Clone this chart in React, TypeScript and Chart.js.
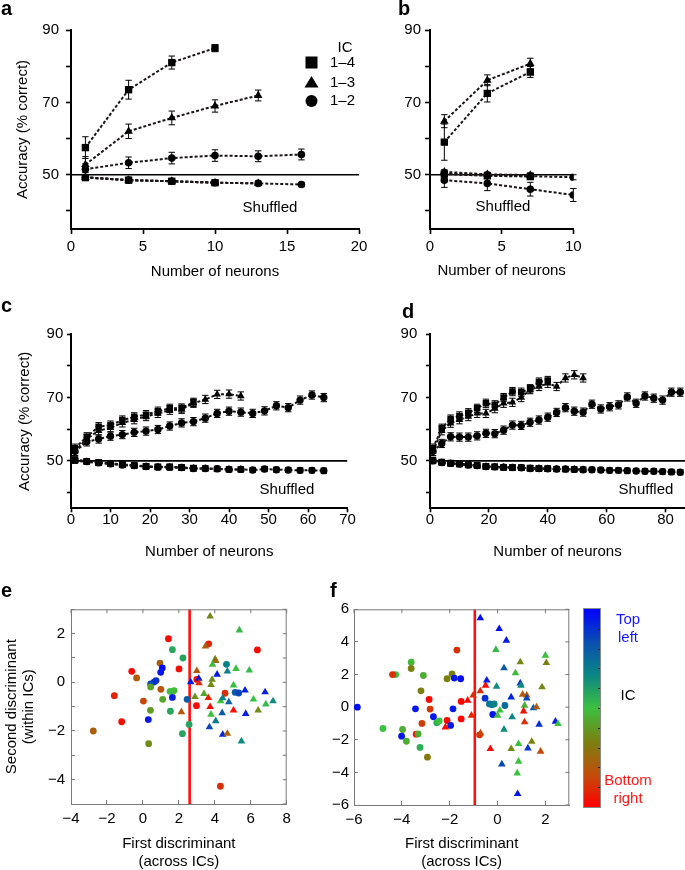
import React, { useEffect, useRef } from 'react';
import { Chart, registerables } from 'chart.js';
Chart.register(...registerables);

const W = 685;
const CH = 900;
const FONT = "'Liberation Sans', Arial, Helvetica, sans-serif";
const LINE = '#1a1414';

// ---------------- data ----------------
const CHANCE = 50;
const LEGEND_TITLE = 'IC';
const LEGEND_LABELS = ['1\u20134', '1\u20133', '1\u20132'];
const SHUFFLED_LABEL = 'Shuffled';

// panel a
const A_X = [1, 4, 7, 10, 13, 16];
const A_SQ = [57.5, 73.5, 81.0, 85.0];
const A_SQ_ERR = [3.0, 2.6, 1.8, 1.0];
const A_TRI = [52.8, 62.0, 65.7, 69.0, 71.9];
const A_TRI_ERR = [2.2, 2.0, 1.9, 1.7, 1.5];
const A_CIR = [51.5, 53.3, 54.6, 55.3, 55.1, 55.6];
const A_CIR_ERR = [1.5, 1.6, 1.6, 1.6, 1.5, 1.5];
const A_SHUF_SQ = [49.2, 48.5, 48.2, 47.8];
const A_SHUF_TRI = [49.3, 48.5, 48.2, 47.8, 47.6];
const A_SHUF_CIR = [49.3, 48.5, 48.2, 47.8, 47.6, 47.3];
const A_SHUF_ERR = 0.6;

// panel b
const B_X = [1, 4, 7, 10];
const B_TRI = [64.8, 76.1, 80.7];
const B_TRI_ERR = [1.8, 1.5, 1.5];
const B_SQ = [59.0, 72.5, 78.4];
const B_SQ_ERR = [5.0, 2.4, 1.5];
const B_CIR = [50.3, 49.9, 49.6, 49.3];
const B_CIR_ERR = 0.7;
const B_SHUF_TRI = [50.8, 50.1, 49.9];
const B_SHUF_SQ = [50.2, 49.7, 49.5];
const B_SHUF_ERR = 0.6;
const B_SHUF_CIR = [48.5, 47.6, 46.0, 44.4];
const B_SHUF_CIR_ERR = [2.0, 2.0, 1.9, 1.8];

// panel c
const C_X = [1, 4, 7, 10, 13, 16, 19, 22, 25, 28, 31, 34, 37, 40, 43, 46, 49, 52, 55, 58, 61, 64];
const C_CIR = [53.0, 56.0, 56.9, 57.8, 58.3, 59.0, 59.4, 59.9, 61.0, 62.0, 62.4, 63.5, 65.0, 65.7, 65.4, 65.0, 65.8, 67.4, 66.8, 69.2, 70.8, 70.0];
const C_SQ = [54.0, 57.6, 60.8, 61.3, 62.9, 63.9, 64.6, 65.7, 66.6, 66.7, 68.5];
const C_TRI = [53.0, 57.0, 59.5, 60.5, 62.0, 63.0, 64.0, 65.0, 66.0, 66.3, 68.2, 69.4, 71.0, 71.1, 70.5];
const C_SHUF_CIR = [50.2, 49.8, 49.4, 49.1, 48.7, 48.5, 48.2, 48.0, 48.0, 47.9, 47.6, 47.6, 47.5, 47.3, 47.3, 47.1, 47.4, 47.2, 47.1, 47.0, 47.0, 46.9];
const C_SHUF_SQ = [50.4, 49.9, 49.5, 49.2, 48.9, 48.6, 48.3, 48.1, 48.1, 47.9, 47.7];
const C_SHUF_TRI = [50.0, 49.7, 49.3, 49.0, 48.7, 48.4, 48.2, 48.0, 47.9, 47.8, 47.6, 47.6, 47.4, 47.3, 47.3];
const C_ERR = 1.3;
const C_SHUF_ERR = 0.8;

// panel d
const D_X = [1, 4, 7, 10, 13, 16, 19, 22, 25, 28, 31, 34, 37, 40, 43, 46, 49, 52, 55, 58, 61, 64, 67, 70, 73, 76, 79, 82, 85];
const D_CIR = [53.0, 55.5, 57.6, 57.5, 57.5, 57.9, 58.7, 58.6, 59.7, 61.3, 61.2, 62.2, 62.9, 63.8, 65.3, 66.8, 65.7, 65.4, 67.9, 66.4, 67.1, 67.7, 70.2, 68.2, 70.5, 69.8, 69.2, 71.7, 71.7];
const D_SQ = [54.0, 60.3, 63.2, 64.2, 65.2, 66.6, 68.2, 67.7, 70.0, 71.9, 71.7, 72.8, 74.9, 75.4];
const D_TRI = [53.0, 59.5, 61.9, 63.0, 64.0, 65.0, 65.0, 66.5, 68.2, 68.5, 70.0, 72.5, 73.5, 74.5, 73.5, 76.2, 77.2, 76.2];
const D_SHUF_CIR = [50.0, 49.5, 49.2, 49.0, 48.7, 48.5, 48.2, 48.1, 48.0, 47.9, 47.8, 47.6, 47.6, 47.5, 47.4, 47.4, 47.3, 47.2, 47.2, 47.1, 47.0, 47.0, 46.9, 46.8, 46.7, 46.7, 46.6, 46.5, 46.4];
const D_SHUF_SQ = [50.3, 49.6, 49.3, 49.1, 48.8, 48.6, 48.3, 48.1, 48.0, 47.9, 47.8, 47.7, 47.6, 47.5];
const D_SHUF_TRI = [49.9, 49.4, 49.1, 48.9, 48.6, 48.4, 48.2, 48.0, 47.9, 47.8, 47.8, 47.6, 47.5, 47.5, 47.4, 47.3, 47.3, 47.2];
const D_ERR = 1.3;
const D_SHUF_ERR = 0.8;

// panel e: [first discriminant, second discriminant, IC position 0=bottom right .. 1=top left]
const E_BOUNDARY = 2.6;
const E_CIRCLES: number[][] = [
  [1.42, 1.79, 0.02], [-0.62, 0.45, 0.02], [-1.59, -0.55, 0.08], [-1.18, -1.62, 0.03], [-2.76, -2.0, 0.22],
  [-0.35, 0.18, 0.2], [0.03, -0.77, 0.15], [0.95, 0.79, 0.22], [1.0, -0.29, 0.18], [1.08, 0.59, 0.97],
  [0.99, 0.41, 0.95], [0.62, 0.01, 0.88], [0.43, -0.07, 0.85], [0.73, 0.07, 0.9], [0.3, -1.53, 0.95],
  [0.43, -0.19, 0.42], [0.42, -1.15, 0.4], [0.32, -2.52, 0.36], [1.1, -0.7, 0.43], [1.64, 1.34, 0.57],
  [2.23, 1.0, 0.58], [1.51, -0.37, 0.5], [1.73, -0.34, 0.48], [1.53, -1.19, 0.57], [1.64, -0.62, 0.93],
  [2.01, 0.55, 0.02], [2.2, -2.11, 0.58], [2.57, -1.73, 0.58], [2.46, -0.7, 0.8], [3.0, 0.12, 0.02],
  [2.98, -0.96, 0.02], [3.66, 1.58, 0.08], [6.37, 1.33, 0.02], [4.57, -0.45, 0.1], [4.31, -4.27, 0.1],
  [4.65, 0.74, 0.68], [5.13, -0.41, 0.8], [5.33, -0.44, 0.85],
];
const E_TRIANGLES: number[][] = [
  [2.66, 0.01, 0.95], [3.0, 0.47, 0.2], [3.11, 0.15, 0.95], [3.12, -0.03, 0.08], [2.9, -0.6, 0.38],
  [2.14, -1.22, 0.2], [3.48, 1.48, 0.22], [3.74, 2.71, 0.35], [5.37, 2.14, 0.52], [4.02, 0.95, 0.35],
  [4.05, 0.88, 0.25], [3.87, 0.73, 0.48], [3.85, 0.11, 0.37], [3.79, -0.1, 0.35], [4.13, 0.32, 0.95],
  [3.4, -0.47, 0.43], [3.64, -0.64, 0.08], [3.74, -1.01, 0.02], [3.79, -1.32, 0.5], [4.05, -1.59, 0.7],
  [3.7, -1.84, 0.85], [4.33, -0.77, 0.5], [4.44, -0.65, 0.68], [4.41, -1.26, 0.8], [4.7, 0.45, 0.68],
  [4.78, -0.81, 0.78], [4.44, -2.15, 0.92], [4.7, -2.11, 0.22], [5.04, -1.15, 0.02], [5.04, -0.12, 0.5],
  [5.18, 0.56, 0.5], [5.48, -2.42, 0.65], [5.68, -0.33, 0.93], [5.72, -1.29, 0.93], [5.92, 0.49, 0.52],
  [6.15, -0.7, 0.5], [6.41, -1.15, 0.36], [6.8, -0.4, 0.93], [6.84, -0.9, 0.52], [7.24, -0.77, 0.65],
];

// panel f
const F_BOUNDARY = -0.95;
const F_CIRCLES: number[][] = [
  [-5.86, 0.0, 0.97], [-4.79, -1.31, 0.5], [-4.26, 2.0, 0.5], [-4.39, 2.0, 0.1], [-3.61, 2.76, 0.48],
  [-3.61, 2.37, 0.33], [-3.1, 1.94, 0.45], [-3.2, 1.0, 0.33], [-3.43, -0.1, 0.95], [-2.86, 0.47, 0.02],
  [-2.82, -0.12, 0.12], [-2.68, -0.59, 0.95], [-3.16, -1.0, 0.13], [-3.97, -1.37, 0.45], [-4.01, -1.78, 0.95],
  [-3.81, -2.09, 0.45], [-3.4, -1.66, 0.03], [-3.32, -1.64, 0.45], [-3.24, -2.47, 0.55], [-2.93, -3.07, 0.3],
  [-2.54, -0.96, 0.55], [-2.44, -0.85, 0.5], [-2.11, -0.82, 0.02], [-1.96, -1.12, 0.95], [-1.86, -0.1, 0.95],
  [-2.11, 1.74, 0.33], [-1.9, 2.04, 0.33], [-1.81, 1.78, 0.95], [-1.54, 1.74, 0.97], [-1.7, 3.5, 0.1],
  [-1.52, 0.35, 0.02], [-1.52, -0.72, 0.02], [-0.75, -1.7, 0.1], [-0.52, 0.55, 0.9], [-0.34, 0.2, 0.72],
  [-0.23, 0.15, 0.7], [-0.14, 0.2, 0.68], [-0.2, -0.45, 0.95], [0.31, 0.1, 0.75],
];
const F_TRIANGLES: number[][] = [
  [-2.18, -1.23, 0.02], [-1.25, 0.41, 0.02], [-1.09, -0.51, 0.08], [-1.02, 0.72, 0.1], [-0.72, 0.98, 0.1],
  [-0.5, 1.33, 0.02], [-0.45, 1.64, 0.95], [-0.72, 5.46, 0.97], [0.07, 4.8, 0.97], [0.37, 4.09, 0.95],
  [-0.07, 3.52, 0.52], [0.27, 2.39, 0.8], [-0.04, 1.27, 0.65], [-0.71, -1.6, 0.15], [-0.3, -2.56, 0.02],
  [0.0, -0.51, 0.48], [0.1, -0.2, 0.5], [0.27, -1.37, 0.65], [0.18, -3.5, 0.85], [0.57, 0.61, 0.92],
  [0.61, -0.61, 0.68], [0.57, -2.56, 0.35], [0.75, 2.09, 0.48], [0.95, 2.76, 0.35], [0.95, 1.47, 0.88],
  [0.98, 1.33, 0.65], [1.05, 0.78, 0.2], [1.22, 0.72, 0.2], [1.22, 0.55, 0.85], [1.13, 0.1, 0.45],
  [1.09, -0.25, 0.03], [1.13, -0.92, 0.1], [0.88, -2.25, 0.5], [0.88, -3.33, 0.5], [0.82, -4.05, 0.5],
  [0.84, -5.32, 0.95], [1.27, -2.52, 0.88], [1.43, -2.11, 0.33], [1.5, -0.06, 0.8], [1.63, 0.0, 0.2],
  [1.74, -1.06, 0.9], [1.8, -2.72, 0.15], [1.86, 1.23, 0.35], [2.0, 3.17, 0.5], [2.04, 2.72, 0.33],
  [2.42, -0.88, 0.95], [2.53, -1.02, 0.5],
];

// colormap (IC position -> colour)
const IC_STOPS: [number, string][] = [
  [0, '#ff0000'], [0.17, '#c0500a'], [0.33, '#7a8010'], [0.5, '#3cc040'],
  [0.67, '#0a8585'], [0.83, '#0a50b0'], [1, '#0000ff'],
];

// ---------------- helpers ----------------
function hexRgb(h: string) {
  return [parseInt(h.slice(1, 3), 16), parseInt(h.slice(3, 5), 16), parseInt(h.slice(5, 7), 16)];
}
function icColor(t: number) {
  for (let i = 0; i < IC_STOPS.length - 1; i++) {
    const [t0, c0] = IC_STOPS[i];
    const [t1, c1] = IC_STOPS[i + 1];
    if (t >= t0 && t <= t1) {
      const f = (t - t0) / (t1 - t0);
      const a = hexRgb(c0), b = hexRgb(c1);
      const m = a.map((v, k) => Math.round(v + (b[k] - v) * f));
      return `rgb(${m[0]},${m[1]},${m[2]})`;
    }
  }
  return IC_STOPS[IC_STOPS.length - 1][1];
}

const pts = (xs: number[], ys: number[]) => ys.map((y, i) => ({ x: xs[i], y }));

function series(xs: number[], ys: number[], err: number | number[], style: string, r: number) {
  return {
    data: pts(xs, ys),
    errs: Array.isArray(err) ? err : ys.map(() => err),
    borderColor: LINE,
    borderWidth: 2,
    borderDash: [3, 2],
    pointStyle: style,
    pointRadius: r,
    pointHoverRadius: r,
    pointBackgroundColor: '#000',
    pointBorderWidth: 0,
    fill: false,
    tension: 0,
  };
}
function chanceLine(x0: number, x1: number) {
  return {
    data: [{ x: x0, y: CHANCE }, { x: x1, y: CHANCE }],
    borderColor: '#000',
    borderWidth: 1.6,
    pointRadius: 0,
    fill: false,
  };
}
function scatterSet(rows: number[][], style: string, r: number) {
  return {
    data: rows.map((p) => ({ x: p[0], y: p[1] })),
    showLine: false,
    pointStyle: style,
    pointRadius: r,
    pointHoverRadius: r,
    pointBackgroundColor: rows.map((p) => icColor(p[2])),
    pointBorderWidth: 0,
  };
}
function boundaryLine(x: number, y0: number, y1: number) {
  return {
    data: [{ x, y: y0 }, { x, y: y1 }],
    borderColor: '#ff1010',
    borderWidth: 2.6,
    pointRadius: 0,
    fill: false,
  };
}

const MK = { sq: 5.2, tri: 4.9, cir: 3.8 };
const MK2 = { sq: 4.6, tri: 4.4, cir: 3.7 };

const PANELS: any[] = [
  {
    key: 'a',
    area: { l: 71, t: 30, r: 359, b: 229 },
    x: { min: 0, max: 20, ticks: [0, 5, 10, 15, 20], labels: [0, 5, 10, 15, 20] },
    y: { min: 35, max: 90, ticks: [40, 50, 60, 70, 80, 90], labels: [50, 70, 90] },
    xTitle: 'Number of neurons',
    yTitle: 'Accuracy (% correct)',
    yW: 57, xH: 51.7, tl: 5, xPad: 3.7, yPad: 7, box: false, legend: true,
    build: () => [
      series(A_X, A_SQ, A_SQ_ERR, 'rect', MK.sq),
      series(A_X, A_TRI, A_TRI_ERR, 'triangle', MK.tri),
      series(A_X, A_CIR, A_CIR_ERR, 'circle', MK.cir),
      series(A_X, A_SHUF_SQ, A_SHUF_ERR, 'rect', MK.sq),
      series(A_X, A_SHUF_TRI, A_SHUF_ERR, 'triangle', MK.tri),
      series(A_X, A_SHUF_CIR, A_SHUF_ERR, 'circle', MK.cir),
      chanceLine(0, 20),
    ],
  },
  {
    key: 'b',
    area: { l: 430, t: 30, r: 573.3, b: 229 },
    x: { min: 0, max: 10, ticks: [0, 5, 10], labels: [0, 5, 10] },
    y: { min: 35, max: 90, ticks: [40, 50, 60, 70, 80, 90], labels: [50, 70, 90] },
    xTitle: 'Number of neurons',
    yW: 40, xH: 50.7, tl: 5, xPad: 3.7, yPad: 4, box: false,
    build: () => [
      series(B_X, B_TRI, B_TRI_ERR, 'triangle', MK.tri),
      series(B_X, B_SQ, B_SQ_ERR, 'rect', MK.sq),
      series(B_X, B_SHUF_TRI, B_SHUF_ERR, 'triangle', MK.tri),
      series(B_X, B_SHUF_SQ, B_SHUF_ERR, 'rect', MK.sq),
      series(B_X, B_CIR, B_CIR_ERR, 'circle', MK.cir),
      series(B_X, B_SHUF_CIR, B_SHUF_CIR_ERR, 'circle', MK.cir),
      chanceLine(0, 10),
    ],
  },
  {
    key: 'c',
    area: { l: 71, t: 334.3, r: 347.5, b: 508.3 },
    x: { min: 0, max: 70, ticks: [0, 10, 20, 30, 40, 50, 60, 70], labels: [0, 10, 20, 30, 40, 50, 60, 70] },
    y: { min: 35, max: 90, ticks: [40, 50, 60, 70, 80, 90], labels: [50, 70, 90] },
    xTitle: 'Number of neurons',
    yTitle: 'Accuracy (% correct)',
    yW: 55, xH: 52.7, tl: 4, xPad: -1, yPad: 3.7, box: false,
    build: () => [
      series(C_X, C_SQ, C_ERR, 'rect', MK2.sq),
      series(C_X, C_TRI, C_ERR, 'triangle', MK2.tri),
      series(C_X, C_CIR, C_ERR, 'circle', MK2.cir),
      series(C_X, C_SHUF_SQ, C_SHUF_ERR, 'rect', MK2.sq),
      series(C_X, C_SHUF_TRI, C_SHUF_ERR, 'triangle', MK2.tri),
      series(C_X, C_SHUF_CIR, C_SHUF_ERR, 'circle', MK2.cir),
      chanceLine(0, 70),
    ],
  },
  {
    key: 'd',
    area: { l: 430, t: 334.3, r: 685, b: 508.3 },
    x: { min: 0, max: 86.6, ticks: [0, 20, 40, 60, 80], labels: [0, 20, 40, 60, 80] },
    y: { min: 35, max: 90, ticks: [40, 50, 60, 70, 80, 90], labels: [50, 70, 90] },
    xTitle: 'Number of neurons',
    yW: 40, xH: 53, tl: 4, xPad: -1, yPad: 8.7, box: false,
    build: () => [
      series(D_X, D_SQ, D_ERR, 'rect', MK2.sq),
      series(D_X, D_TRI, D_ERR, 'triangle', MK2.tri),
      series(D_X, D_CIR, D_ERR, 'circle', MK2.cir),
      series(D_X, D_SHUF_SQ, D_SHUF_ERR, 'rect', MK2.sq),
      series(D_X, D_SHUF_TRI, D_SHUF_ERR, 'triangle', MK2.tri),
      series(D_X, D_SHUF_CIR, D_SHUF_ERR, 'circle', MK2.cir),
      chanceLine(0, 86.6),
    ],
  },
  {
    key: 'e',
    area: { l: 71, t: 609.3, r: 286.7, b: 804 },
    x: { min: -4, max: 8, ticks: [-4, -2, 0, 2, 4, 6, 8], labels: [-4, -2, 0, 2, 4, 6, 8] },
    y: { min: -5, max: 3, ticks: [-5, -4, -3, -2, -1, 0, 1, 2, 3], labels: [-4, -2, 0, 2] },
    xTitle: ['First discriminant', '(across ICs)'],
    yTitle: ['Second discriminant', '(within ICs)'],
    yW: 67.25, xH: 66.7, tl: -4, xPad: 10, yPad: 10, box: true,
    build: () => [
      scatterSet(E_TRIANGLES, 'triangle', 4.4),
      scatterSet(E_CIRCLES, 'circle', 3.4),
      boundaryLine(E_BOUNDARY, -5, 3),
    ],
  },
  {
    key: 'f',
    area: { l: 354, t: 609.3, r: 569.3, b: 805 },
    x: { min: -6, max: 3, ticks: [-6, -4, -2, 0, 2], labels: [-6, -4, -2, 0, 2] },
    y: { min: -6, max: 6, ticks: [-6, -4, -2, 0, 2, 4, 6], labels: [-6, -4, -2, 0, 2, 4, 6] },
    xTitle: ['First discriminant', '(across ICs)'],
    yW: 40, xH: 65.7, tl: -4, xPad: 10, yPad: 9, box: true,
    build: () => [
      scatterSet(F_TRIANGLES, 'triangle', 4.4),
      scatterSet(F_CIRCLES, 'circle', 3.4),
      boundaryLine(F_BOUNDARY, -6, 6),
    ],
  },
];

// ---------------- plugins ----------------
const errorBarPlugin = {
  id: 'errbars',
  beforeDatasetsDraw(chart: any) {
    const ctx = chart.ctx;
    const xs = chart.scales.x, ys = chart.scales.y;
    ctx.save();
    ctx.strokeStyle = '#000';
    ctx.lineWidth = 1;
    chart.data.datasets.forEach((ds: any) => {
      if (!ds.errs) return;
      ds.data.forEach((p: any, i: number) => {
        const e = ds.errs[i];
        if (!e) return;
        const x = xs.getPixelForValue(p.x);
        const y1 = ys.getPixelForValue(p.y + e);
        const y2 = ys.getPixelForValue(p.y - e);
        const cw = 3.2;
        ctx.beginPath();
        ctx.moveTo(x, y1); ctx.lineTo(x, y2);
        ctx.moveTo(x - cw, y1); ctx.lineTo(x + cw, y1);
        ctx.moveTo(x - cw, y2); ctx.lineTo(x + cw, y2);
        ctx.stroke();
      });
    });
    ctx.restore();
  },
};

const boxPlugin = {
  id: 'boxframe',
  afterDatasetsDraw(chart: any) {
    const { ctx, chartArea: a } = chart;
    const xs = chart.scales.x, ys = chart.scales.y;
    ctx.save();
    ctx.strokeStyle = '#7a7a7a';
    ctx.lineWidth = 1;
    ctx.beginPath();
    ctx.moveTo(a.left, a.top + 0.5); ctx.lineTo(a.right, a.top + 0.5);
    ctx.moveTo(a.right - 0.5, a.top); ctx.lineTo(a.right - 0.5, a.bottom);
    xs.ticks.forEach((t: any) => {
      const px = xs.getPixelForValue(t.value);
      ctx.moveTo(px, a.top); ctx.lineTo(px, a.top + 4);
    });
    ys.ticks.forEach((t: any) => {
      const py = ys.getPixelForValue(t.value);
      ctx.moveTo(a.right, py); ctx.lineTo(a.right - 4, py);
    });
    ctx.stroke();
    ctx.restore();
  },
};

const legendPlugin = {
  id: 'iclegend',
  afterDraw(chart: any) {
    const ctx = chart.ctx;
    ctx.save();
    ctx.fillStyle = '#000';
    ctx.font = `15px ${FONT}`;
    ctx.textBaseline = 'middle';
    ctx.textAlign = 'left';
    ctx.fillText(LEGEND_TITLE, 337.5, 48);
    const ys = [62.5, 82.5, 101];
    ctx.fillRect(305.5, ys[0] - 6, 12, 12);
    ctx.beginPath();
    ctx.moveTo(311.5, ys[1] - 6.5);
    ctx.lineTo(318.5, ys[1] + 5);
    ctx.lineTo(304.5, ys[1] + 5);
    ctx.closePath();
    ctx.fill();
    ctx.beginPath();
    ctx.arc(311.5, ys[2], 6, 0, Math.PI * 2);
    ctx.fill();
    LEGEND_LABELS.forEach((lab, i) => ctx.fillText(lab, 330, ys[i]));
    ctx.restore();
  },
};

// ---------------- options ----------------
const fmt = (v: number) => (v < 0 ? '\u2212' + Math.abs(v) : String(v));

function makeOptions(p: any) {
  const axisColor = p.box ? '#7a7a7a' : '#000';
  const axis = (ax: any, isX: boolean, pad: number) => ({
    type: 'linear',
    min: ax.min,
    max: ax.max,
    afterBuildTicks: (s: any) => {
      s.ticks = ax.ticks.map((v: number) => ({ value: v }));
    },
    afterFit: (s: any) => {
      if (isX) {
        s.height = p.xH;
        s.paddingLeft = 0;
        s.paddingRight = 0;
      } else {
        s.width = p.yW;
        s.paddingTop = 0;
        s.paddingBottom = 0;
      }
    },
    ticks: {
      autoSkip: false,
      maxRotation: 0,
      minRotation: 0,
      padding: pad,
      color: '#000',
      font: { family: FONT, size: 15 },
      callback: (v: any) => (ax.labels.includes(Number(v)) ? fmt(Number(v)) : ''),
    },
    grid: {
      drawOnChartArea: false,
      drawTicks: true,
      tickLength: p.tl,
      tickWidth: p.box ? 1 : 1.6,
      tickColor: axisColor,
    },
    border: { display: true, color: axisColor, width: p.box ? 1 : 2 },
  });
  const xs: any = axis(p.x, true, p.xPad);
  xs.title = {
    display: true,
    text: p.xTitle,
    color: '#000',
    padding: 0,
    font: { family: FONT, size: 15, lineHeight: 1.2 },
  };
  const ysc: any = axis(p.y, false, p.yPad);
  if (p.yTitle) {
    ysc.title = {
      display: true,
      text: p.yTitle,
      color: '#000',
      padding: 0,
      font: { family: FONT, size: 15, lineHeight: Array.isArray(p.yTitle) ? 1.1 : 1.2 },
    };
  }
  return {
    animation: false,
    responsive: false,
    maintainAspectRatio: false,
    devicePixelRatio: 1,
    events: [],
    layout: {
      autoPadding: false,
      padding: {
        left: p.area.l - p.yW,
        top: p.area.t,
        right: W - p.area.r,
        bottom: CH - p.area.b - p.xH,
      },
    },
    plugins: { legend: { display: false }, tooltip: { enabled: false }, title: { display: false } },
    scales: { x: xs, y: ysc },
  };
}

function PanelChart({ p }: { p: any }) {
  const ref = useRef<HTMLCanvasElement | null>(null);
  useEffect(() => {
    if (!ref.current) return;
    const plugins: any[] = [errorBarPlugin];
    if (p.box) plugins.push(boxPlugin);
    if (p.legend) plugins.push(legendPlugin);
    const chart = new Chart(ref.current, {
      type: 'line',
      data: { datasets: p.build() },
      options: makeOptions(p) as any,
      plugins,
    } as any);
    return () => chart.destroy();
  }, [p]);
  return (
    <canvas
      ref={ref}
      width={W}
      height={CH}
      style={{ position: 'absolute', left: 0, top: 0, width: W, height: CH }}
    />
  );
}

const letterStyle = (left: number, top: number): React.CSSProperties => ({
  position: 'absolute',
  left,
  top,
  fontFamily: FONT,
  fontWeight: 'bold',
  fontSize: 20,
  lineHeight: '20px',
  color: '#000',
});
const centerText = (x: number, y: number, color = '#000'): React.CSSProperties => ({
  position: 'absolute',
  left: x,
  top: y,
  transform: 'translate(-50%, -50%)',
  fontFamily: FONT,
  fontSize: 15,
  lineHeight: '18px',
  color,
  whiteSpace: 'nowrap',
  textAlign: 'center',
});

export default function App() {
  const gradient =
    'linear-gradient(to top, ' + IC_STOPS.map(([t, c]) => `${c} ${(t * 100).toFixed(0)}%`).join(', ') + ')';
  const cbTicks = [1, 2, 3, 4, 5, 6, 7, 8, 9];
  return (
    <div
      style={{
        position: 'fixed',
        left: 0,
        top: 0,
        width: W,
        height: 870,
        overflow: 'hidden',
        background: '#fff',
      }}
    >
      {PANELS.map((p) => (
        <PanelChart key={p.key} p={p} />
      ))}
      <div style={letterStyle(1, -2)}>a</div>
      <div style={letterStyle(398, -2)}>b</div>
      <div style={letterStyle(1, 295)}>c</div>
      <div style={letterStyle(402, 301)}>d</div>
      <div style={letterStyle(1, 580)}>e</div>
      <div style={letterStyle(330, 580)}>f</div>

      <div style={centerText(270, 207)}>{SHUFFLED_LABEL}</div>
      <div style={centerText(503, 206)}>{SHUFFLED_LABEL}</div>
      <div style={centerText(287, 489)}>{SHUFFLED_LABEL}</div>
      <div style={centerText(646, 489)}>{SHUFFLED_LABEL}</div>

      <div
        style={{
          position: 'absolute',
          left: 583,
          top: 608,
          width: 16,
          height: 198,
          background: gradient,
          border: '1px solid #8a8a8a',
        }}
      >
        {cbTicks.map((i) => (
          <div
            key={i}
            style={{
              position: 'absolute',
              right: 0,
              top: (i * 198) / 10,
              width: 2,
              height: 1,
              background: '#222',
            }}
          />
        ))}
      </div>
      <div style={centerText(628, 627.5, '#1a1aff')}>
        Top
        <br />
        left
      </div>
      <div style={centerText(628, 695)}>IC</div>
      <div style={centerText(628, 789, '#ff1a1a')}>
        Bottom
        <br />
        right
      </div>
    </div>
  );
}
